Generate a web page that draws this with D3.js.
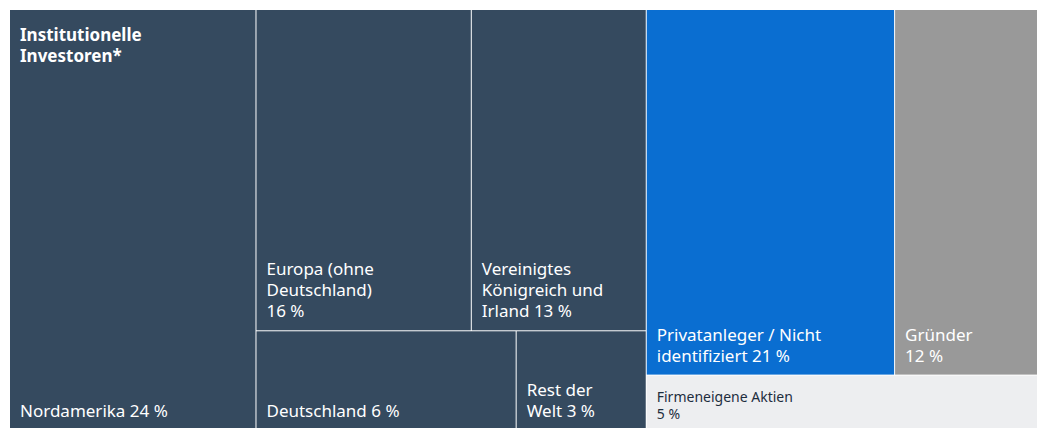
<!DOCTYPE html>
<html>
<head>
<meta charset="utf-8">
<script src="https://cdn.jsdelivr.net/npm/d3@7"></script>
<style>
  body { margin: 0; background: #fff; overflow: hidden; }
  svg { display: block; font-family: "Noto Sans", sans-serif; }
</style>
</head>
<body>
<div id="container"></div>
<script>
// "|" marks a line break, a trailing "|" puts the share on its own line
var names = ["Nordamerika", "Europa (ohne|Deutschland)|", "Vereinigtes|Königreich und|Irland",
             "Deutschland", "Rest der|Welt", "Privatanleger / Nicht|identifiziert", "Gründer|",
             "Firmeneigene Aktien|"];
var shares = [24, 16, 13, 6, 3, 21, 12, 5];
// where each cell sits in the nesting of the treemap
var parents = ["inst", "inst/rest/top", "inst/rest/top", "inst/rest/bottom", "inst/rest/bottom",
               "other/top", "other/top", "other"];
var groupLabels = { inst: "Institutionelle|Investoren*" };

// v = stacked vertically, everything else side by side
var direction = { "inst/rest": "v", "other": "v" };

var colors = d3.scaleOrdinal()
  .domain(["inst", "other/top0", "other/top1", "other1"])
  .range(["#354a5f", "#0a6ed1", "#999999", "#edeef0"]);

var W = 1037, H = 428;

var svg = d3.select("#container")
  .append("svg")
  .attr("width", W)
  .attr("height", H);

// build the nested object from the parent paths
var tree = { key: "", children: [] };
names.forEach(function(name, i) {
  var node = tree;
  parents[i].split("/").forEach(function(seg) {
    var key = node.key ? node.key + "/" + seg : seg;
    var c = node.children.find(function(c) { return c.key == key; });
    if (!c) {
      c = { key: key, children: [] };
      node.children.push(c);
    }
    node = c;
  });
  node.children.push({ name: name, value: shares[i], parent: parents[i], idx: node.children.length });
});

var root = d3.hierarchy(tree).sum(function(d) { return d.value || 0; });

d3.treemap()
  .size([1036 - 10, 430 - 10])
  .paddingInner(1)
  .round(false)
  .tile(function(node, x0, y0, x1, y1) {
    if (direction[node.data.key] == "v") d3.treemapSlice(node, x0, y0, x1, y1);
    else d3.treemapDice(node, x0, y0, x1, y1);
  })(root);

var chart = svg.append("g").attr("transform", "translate(10,10)");

function fillOf(d) {
  if (d.data.parent.indexOf("inst") == 0) return colors("inst");
  return colors(d.data.parent + d.data.idx);
}

var cells = chart.selectAll(".cell")
  .data(root.leaves())
  .enter().append("g")
    .classed("cell", true)
    .attr("transform", function(d) { return "translate(" + d.x0 + "," + d.y0 + ")"; });

cells.append("rect")
  .attr("width", function(d) { return d.x1 - d.x0 + (d.x1 > 1020 ? 4 : 0); })
  .attr("height", function(d) { return d.y1 - d.y0; })
  .attr("fill", fillOf);

cells.each(function(d) {
  var small = (d.y1 - d.y0) < 70;
  var size = small ? 14 : 17;
  var lh = small ? 17 : 21;
  var name = d.data.name;
  var label = name + (name.slice(-1) == "|" ? "" : " ") + d.data.value + " %";
  var lines = label.split("|");
  var bottom = (d.y1 - d.y0) - (small ? 11 : 13);
  var light = fillOf(d) == "#edeef0";
  var text = d3.select(this).append("text")
    .attr("font-size", size)
    .attr("fill", light ? "#1d2d3e" : "#fff");
  lines.forEach(function(l, i) {
    text.append("tspan")
      .attr("x", 10)
      .attr("y", bottom - (lines.length - 1 - i) * lh)
      .text(l);
  });
});

// group titles
root.children.forEach(function(g) {
  var t = groupLabels[g.data.key];
  if (!t) return;
  var text = chart.append("text")
    .attr("font-size", 17)
    .attr("font-weight", 700)
    .attr("fill", "#fff");
  t.split("|").forEach(function(l, i) {
    text.append("tspan")
      .attr("x", g.x0 + 10)
      .attr("y", g.y0 + 31 + i * 21)
      .text(l);
  });
});
</script>
</body>
</html>
